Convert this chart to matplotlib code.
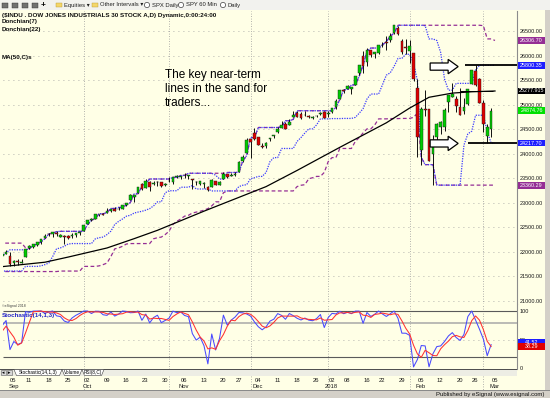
import matplotlib
matplotlib.use("Agg")
import matplotlib.pyplot as plt
import matplotlib.transforms as mtransforms
from matplotlib.patches import Rectangle, Polygon, Circle
import numpy as np
import pandas as pd

plt.rcParams["font.family"] = ["Liberation Sans", "DejaVu Sans"]

W, H = 550, 398
CREAM = "#FFFFE6"
PANEL = "#D4D0C8"
GREEN = "#00CC00"
RED = "#E00000"
BLUE = "#3A3AFF"
PURPLE = "#952E95"

# trading calendar: 21 August bars only feed the indicators, Sep 5 is x = 0
HOLIDAYS = ["2017-09-04", "2017-11-23", "2017-12-25", "2018-01-01", "2018-01-15", "2018-02-19"]
N_LEAD = 21

OPEN = [
    # Aug 4 - Sep 1 (lead-in)
    22036, 22100, 22100, 22052, 22009, 21860, 21930, 22005, 22016, 21990, 21730,
    21666, 21725, 21850, 21830, 21800, 21820, 21760, 21860, 21910, 21961,
    # Sep
    21920, 21773, 21814, 21773, 21905, 22077, 22110, 22142, 22199, 22278, 22355,
    22370, 22395, 22312, 22325, 22330, 22323, 22337, 22388,
    # Oct
    22423, 22566, 22645, 22679, 22765, 22776, 22794, 22826, 22875, 22872, 22882,
    22962, 23063, 23109, 23205, 23377, 23306, 23419, 23375, 23415, 23416, 23366,
    # Nov
    23443, 23427, 23523, 23523, 23557, 23545, 23486, 23423, 23374, 23382, 23325,
    23331, 23442, 23369, 23491, 23593, 23549, 23567, 23619, 23859, 24017,
    # Dec
    24305, 24424, 24335, 24143, 24152, 24300, 24353, 24452, 24522, 24610, 24588,
    24739, 24830, 24806, 24787, 24764, 24736, 24766, 24800, 24849,
    # Jan
    24809, 24851, 24944, 25115, 25308, 25311, 25326, 25406, 25638, 25987, 25866,
    26105, 26038, 26054, 26212, 26286, 26314, 26469, 26559, 26300, 26172,
    # Feb
    26083, 26062, 25338, 24085, 24916, 24903, 23992, 24337, 24541, 24535, 25049,
    25165, 25124, 24960, 24869, 25010, 25424, 25684, 25521,
    # Mar
    25025, 24362, 24512,
]
HIGH = [
    22092, 22121, 22179, 22085, 22028, 21905, 22000, 22010, 22065, 22005, 21776,
    21713, 21912, 21854, 21880, 21900, 21860, 21880, 21915, 21986, 22043,
    21988, 21838, 21847, 21857, 22062, 22131, 22159, 22203, 22268, 22362, 22382,
    22413, 22419, 22366, 22345, 22338, 22380, 22382, 22405,
    22558, 22642, 22685, 22777, 22777, 22802, 22885, 22873, 22906, 22905, 22957,
    23002, 23183, 23163, 23329, 23400, 23485, 23443, 23443, 23450, 23418, 23400,
    23517, 23517, 23557, 23549, 23602, 23563, 23486, 23444, 23441, 23417, 23335,
    23481, 23448, 23447, 23618, 23596, 23602, 23621, 23853, 23964, 24328,
    24305, 24534, 24349, 24214, 24246, 24330, 24386, 24552, 24672, 24649, 24699,
    24876, 24863, 24851, 24875, 24783, 24778, 24798, 24840, 24871,
    24864, 24941, 25105, 25299, 25311, 25401, 25369, 25576, 25804, 26086, 26153,
    26113, 26072, 26215, 26286, 26392, 26458, 26617, 26609, 26338, 26339,
    26306.70, 26062, 25520, 24946, 25294, 24903, 24382, 24636, 24667, 24925, 25203,
    25433, 25175, 25336, 25138, 25309, 25709, 25800.35, 25538,
    25093, 24600, 24923,
]
LOW = [
    21970, 22063, 22046, 21930, 21843, 21824, 21893, 21945, 21968, 21750, 21600,
    21600, 21724, 21785, 21760, 21780, 21780, 21610, 21820, 21900, 21960,
    21705, 21716, 21741, 21773, 21905, 22062, 22082, 22115, 22161, 22278, 22328,
    22297, 22324, 22294, 22170, 22267, 22290, 22302, 22353,
    22423, 22560, 22622, 22671, 22728, 22746, 22792, 22811, 22827, 22851, 22882,
    22937, 23063, 23020, 23205, 23256, 23306, 23246, 23370, 23339, 23318, 23352,
    23418, 23383, 23499, 23482, 23504, 23490, 23282, 23372, 23354, 23294, 23242,
    23331, 23358, 23369, 23491, 23511, 23538, 23538, 23619, 23838, 24017,
    23921, 24276, 24180, 24114, 24107, 24251, 24330, 24423, 24522, 24506, 24586,
    24739, 24739, 24710, 24767, 24728, 24716, 24741, 24795, 24719,
    24741, 24825, 24918, 25114, 25236, 25310, 25216, 25405, 25601, 25648, 25781,
    25968, 25942, 26025, 26183, 26103, 26280, 26442, 26420, 26040, 26027,
    25849, 25490, 23924, 23778, 24770, 23849, 23360.29, 24178, 24404, 24459, 24842,
    25165, 24854, 24784, 24813, 25001, 25424, 25385, 25026,
    24451, 24217.70, 24341,
]
CLOSE = [
    22092, 22118, 22085, 22048, 21844, 21858, 21993, 21998, 22024, 21750, 21674,
    21703, 21899, 21812, 21783, 21814, 21808, 21865, 21892, 21948, 21988,
    21753, 21808, 21785, 21798, 22057, 22119, 22158, 22203, 22268, 22331, 22371,
    22413, 22359, 22350, 22296, 22284, 22341, 22381, 22405,
    22558, 22642, 22662, 22775, 22774, 22761, 22831, 22873, 22841, 22872, 22957,
    22997, 23158, 23163, 23329, 23274, 23442, 23329, 23401, 23434, 23349, 23377,
    23435, 23516, 23539, 23548, 23557, 23563, 23462, 23422, 23440, 23409, 23271,
    23458, 23358, 23430, 23591, 23526, 23558, 23581, 23837, 23941, 24272,
    24232, 24290, 24181, 24141, 24211, 24329, 24386, 24505, 24585, 24509, 24652,
    24792, 24755, 24727, 24782, 24754, 24746, 24774, 24838, 24719,
    24824, 24923, 25075, 25296, 25283, 25386, 25369, 25575, 25803, 25793, 26116,
    26018, 26072, 26215, 26211, 26252, 26393, 26617, 26439, 26077, 26149,
    26187, 25521, 24346, 24913, 24893, 23860, 24191, 24601, 24640, 24893, 25200,
    25219, 24965, 24798, 24962, 25310, 25709, 25410, 25029,
    24609, 24538, 24874.76,
]

# MA(50,C) (bar index, value)
MA_IDX = [-2, 9, 15, 25, 32, 38, 50, 66, 74, 85, 97, 103, 108, 114, 119, 125]
MA_VAL = [21700, 21790, 21895, 22080, 22270, 22440, 22830, 23330, 23660, 24130,
          24630, 24930, 25150, 25235, 25262, 25277.915]

# the two hand-drawn "lines in the sand"
LEVEL_HIGH = 25800
LEVEL_LOW = 24210
LEVEL_START = [117.3, 118.0]

PRICE_TICKS = list(range(21000, 26501, 500))
STOCH_TICKS = [0, 50, 100]

dates = pd.bdate_range("2017-08-04", "2018-03-05")
dates = dates[~dates.isin(pd.to_datetime(HOLIDAYS))]
o, h, l, c = (np.asarray(v, dtype=float) for v in (OPEN, HIGH, LOW, CLOSE))
x = np.arange(len(c)) - N_LEAD

XLIM = (-1.8, 130.67)


def frac(x0, y0, x1, y1):
    return [x0 / W, 1 - y1 / H, (x1 - x0) / W, (y1 - y0) / H]


fig = plt.figure(figsize=(W / 100, H / 100), dpi=100)
fig.patch.set_facecolor(CREAM)
PX = mtransforms.Affine2D().scale(1 / W, -1 / H).translate(0, 1) + fig.transFigure


def ftext(px, py, s, **kw):
    fig.text(px / W, 1 - py / H, s, **kw)


ax = fig.add_axes(frac(3, 11, 517, 304))
sx = fig.add_axes(frac(3, 304, 517, 369))
for a in (ax, sx):
    a.set_facecolor(CREAM)
    a.set_xlim(*XLIM)
    for side in ("top", "left", "bottom"):
        a.spines[side].set_visible(False)
    a.spines["right"].set_color("#8C8C8C")
    a.spines["right"].set_linewidth(0.8)
    a.yaxis.tick_right()
    a.tick_params(axis="y", length=0, pad=2, labelsize=4.0, labelcolor="#1A1A1A")
    a.tick_params(axis="x", bottom=False, labelbottom=False)

ax.set_ylim(20938.9, 26907.4)
sx.set_ylim(-0.87, 112.2)
ax.set_yticks(PRICE_TICKS)
ax.set_yticklabels([f"{v:.2f}" for v in PRICE_TICKS])
sx.set_yticks(STOCH_TICKS)
sx.set_yticklabels([str(v) for v in STOCH_TICKS])

# grid: dotted price levels and month separators
ax.hlines(PRICE_TICKS, *XLIM, colors="#9A9A9A", linestyles=(0, (1, 5)), lw=0.6, zorder=1)
sx.hlines([50], *XLIM, colors="#9A9A9A", linestyles=(0, (1, 5)), lw=0.6, zorder=1)
xd = x[N_LEAD:]
dd = dates[N_LEAD:]
month_start = [xi for i, xi in enumerate(xd) if i > 0 and dd[i].month != dd[i - 1].month]
for a in (ax, sx):
    for m in month_start:
        a.axvline(m, color="#9A9A9A", ls=(0, (1, 2)), lw=0.6, zorder=1)
date_tr = mtransforms.blended_transform_factory(sx.transData, PX)
for m in month_start:
    sx.plot([m, m], [376, 390], transform=date_tr, color="#9A9A9A", ls=(0, (1, 2)),
            lw=0.6, clip_on=False)

# candles
up = c >= o
body_lo = np.minimum(o, c)
body_h = np.maximum(np.abs(c - o), 9)
ax.vlines(x, l, h, color="black", lw=0.65, zorder=3)
ax.bar(x[up], body_h[up], bottom=body_lo[up], width=0.7, color=GREEN,
       edgecolor="#1A1A1A", linewidth=0.3, zorder=4)
ax.bar(x[~up], body_h[~up], bottom=body_lo[~up], width=0.7, color=RED,
       edgecolor="#1A1A1A", linewidth=0.3, zorder=4)

# Donchian channels, plotted one bar forward
hs, ls_, cs = pd.Series(h), pd.Series(l), pd.Series(c)
bands = {}
for n, color, style in ((22, PURPLE, (0, (3, 2))), (7, BLUE, (0, (1, 1)))):
    hi = hs.rolling(n, min_periods=1).max()
    lo = ls_.rolling(n, min_periods=1).min()
    bands[n] = (hi.iloc[-1], lo.iloc[-1])
    for band in (hi, lo):
        ax.plot(x + 1, band, color=color, ls=style, lw=0.9, zorder=2)

# MA(50)
ax.plot(MA_IDX, MA_VAL, color="black", lw=0.9, zorder=5)
ax.hlines(MA_VAL[-1], 116, 124.5, color="black", lw=0.7, zorder=5)

# key levels
ax.hlines([LEVEL_HIGH, LEVEL_LOW], LEVEL_START, XLIM[1], color="black", lw=1.3, zorder=6)


def block_arrow(tip_x, tip_y):
    tx, ty = ax.transData.transform((tip_x, tip_y))
    pts = [(-28, 3.6), (-10, 3.6), (-10, 7.2), (0, 0), (-10, -7.2), (-10, -3.6), (-28, -3.6)]
    poly = Polygon([(tx + dx, ty + dy) for dx, dy in pts], closed=True, fc="white",
                   ec="black", lw=0.9, transform=None, zorder=7)
    fig.add_artist(poly)


block_arrow(115.5, LEVEL_HIGH - 25)
block_arrow(115.5, LEVEL_LOW)

for py, s in ((75, "The key near-term"), (89, "lines in the sand for"), (103, "traders...")):
    ftext(165, py, s, fontsize=8.5, va="center", ha="left", color="black")

# stochastic (14,1,3)
ll = ls_.rolling(14, min_periods=1).min()
hh = hs.rolling(14, min_periods=1).max()
k = 100 * (cs - ll) / (hh - ll)
d = k.rolling(3, min_periods=1).mean()
sx.hlines([100, 20], *XLIM, color="#5A5A5A", lw=0.8, zorder=1)
sx.hlines([80], *XLIM, color="#A8A8A8", lw=1.1, zorder=1)
sx.plot(x, k, color="#4848FF", lw=0.75, zorder=3)
sx.plot(x, d, color="#FF3030", lw=0.75, zorder=3)


def marker(a, value, text, fc, tc, half):
    tr = a.get_yaxis_transform()
    a.add_patch(Rectangle((1.002, value - half), 27 / 514, 2 * half, transform=tr,
                          fc=fc, ec="none", clip_on=False, zorder=8))
    a.text(1.002 + 13.5 / 514, value, text, transform=tr, ha="center", va="center",
           fontsize=3.9, color=tc, clip_on=False, zorder=9)


up22, lo22 = bands[22]
up7, lo7 = bands[7]
marker(ax, up22, f"{up22:.2f}", PURPLE, "white", 70)
marker(ax, up7, f"{up7:.2f}", "#1E1EFF", "white", 70)
marker(ax, MA_VAL[-1], f"{MA_VAL[-1]:.3f}", "black", "white", 70)
marker(ax, c[-1], f"{c[-1]:.2f}", "#00E000", "white", 70)
marker(ax, lo7, f"{lo7:.2f}", "#1E1EFF", "white", 70)
marker(ax, lo22, f"{lo22:.2f}", PURPLE, "white", 70)
marker(sx, k.iloc[-1] + 4, f"{k.iloc[-1]:.2f}", "#1E1EFF", "white", 5.5)
marker(sx, d.iloc[-1], f"{d.iloc[-1]:.2f}", "#E00000", "white", 5.5)

# date axis: first trading day of every week
prev_week = None
prev_month = None
for xi, dt in zip(xd, dd):
    wk = dt.isocalendar()[1]
    if wk == prev_week:
        continue
    prev_week = wk
    sx.text(xi + 0.9, 380, f"{dt.day:02d}", transform=date_tr, ha="center", va="center",
            fontsize=4.2, color="#1A1A1A")
    if dt.month != prev_month:
        lab = "2018" if dt.month == 1 else dt.strftime("%b")
        sx.text(xi + 0.9, 386.5, lab, transform=date_tr, ha="center", va="center",
                fontsize=4.2, color="#1A1A1A")
        prev_month = dt.month

# chart header texts
ftext(2, 15, "($INDU . DOW JONES INDUSTRIALS 30 STOCK A,D) Dynamic,0:00:24:00",
      fontsize=4.5, weight="bold", va="center", color="#101010")
ftext(2, 22, "Donchian(7)", fontsize=4.5, weight="bold", va="center", color="#101010")
ftext(2, 29, "Donchian(22)", fontsize=4.5, weight="bold", va="center", color="#101010")
ftext(2, 57, "MA(50,C)s", fontsize=4.5, weight="bold", va="center", color="#101010")
ftext(2, 306.5, "\u00a9eSignal 2018", fontsize=2.6, va="center", color="#404040")
ftext(2, 315, "Stochastic(14,1,3)", fontsize=4.5, weight="bold", va="center", color="#2525C8")

# toolbar
fig.add_artist(Rectangle((0, 0), W, 10, transform=PX, fc="#F2F2EE", ec="none"))
fig.add_artist(Rectangle((0, 9.6), W, 0.8, transform=PX, fc="#9A9A9A", ec="none"))
for ix in (2, 12, 22, 32):
    fig.add_artist(Rectangle((ix, 2.5), 6, 5, transform=PX, fc="#707070", ec="#303030", lw=0.3))
ftext(43, 5, "+", fontsize=6, weight="bold", ha="center", va="center")
for ix in (56, 92):
    fig.add_artist(Rectangle((ix, 2.8), 6, 4.4, transform=PX, fc="#F4D66A", ec="#B89A30", lw=0.3))
ftext(64, 5, "Equities \u25be", fontsize=4.2, va="center", color="#202020")
ftext(100, 5, "Other Intervals \u25be", fontsize=4.2, va="center", color="#202020")
for ix, label in ((147, "SPX Daily"), (181, "SPY 60 Min"), (223, "Daily")):
    fig.add_artist(Circle((ix, 5), 2.6, transform=PX, fc="white", ec="#404040", lw=0.5))
    ftext(ix + 5, 5, label, fontsize=4.2, va="center", color="#202020")

# tab bar under the stochastic pane
fig.add_artist(Rectangle((0, 369), 517, 6.5, transform=PX, fc="#EDEDE4", ec="none"))
fig.add_artist(Rectangle((0, 368.8), 517, 0.7, transform=PX, fc="#505050", ec="none"))
for ix, tri in ((1, "\u25c2"), (7, "\u25b8")):
    fig.add_artist(Rectangle((ix, 370), 5, 4.8, transform=PX, fc="#D8D8D8", ec="#606060", lw=0.4))
    ftext(ix + 2.5, 372.4, tri, fontsize=3.5, ha="center", va="center", color="black")
for x0, x1, label in ((14, 62, "Stochastic(14,1,3)"), (62, 82, "Volume"), (82, 104, "RSI(8,C)")):
    fig.add_artist(Polygon([(x0, 369.5), (x0 + 2.5, 375.5), (x1 - 2.5, 375.5), (x1, 369.5)],
                           closed=True, transform=PX, fc="white", ec="#404040", lw=0.4))
    ftext((x0 + x1) / 2, 372.6, label, fontsize=3.4, ha="center", va="center", color="black")

# frame on the right and status bar
fig.add_artist(Rectangle((545, 10), 5, 380, transform=PX, fc=PANEL, ec="none"))
fig.add_artist(Rectangle((0, 390), W, 8, transform=PX, fc=PANEL, ec="none"))
fig.add_artist(Rectangle((0, 390), W, 0.7, transform=PX, fc="#8A8A8A", ec="none"))
ftext(544, 394.3, "Published by eSignal (www.esignal.com)", fontsize=4.3, ha="right",
      va="center", color="#101010")

fig.savefig("out.png", dpi=100, facecolor=fig.get_facecolor())
